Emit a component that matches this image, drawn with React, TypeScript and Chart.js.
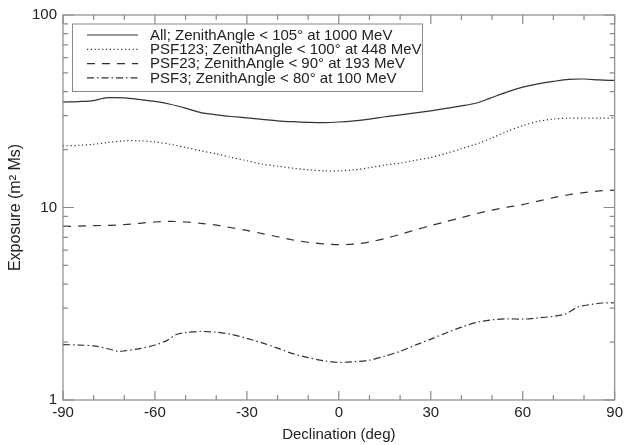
import React, { useEffect, useRef } from "react";
import { Chart, registerables } from "chart.js";

Chart.register(...registerables);

// ---- Data ----
const allDec = [-90, -85, -80, -77, -75, -70, -65, -60, -55, -50, -45, -40, -35, -30, -25, -20, -15, -10, -5, 0, 5, 10, 15, 20, 25, 30, 35, 40, 45, 48, 50, 55, 60, 65, 70, 75, 80, 85, 90];
const allExp = [35.3, 35.5, 35.9, 36.9, 37.2, 37.1, 36.4, 35.6, 34.4, 32.8, 31.1, 30.3, 29.7, 29.2, 28.7, 28.2, 27.9, 27.7, 27.6, 27.8, 28.2, 28.8, 29.6, 30.3, 31.0, 31.8, 32.7, 33.7, 34.9, 36.3, 37.3, 39.9, 42.2, 43.9, 45.2, 46.3, 46.5, 46.0, 45.7];

const psf123Dec = [-90, -85, -80, -75, -70, -65, -60, -55, -50, -45, -40, -35, -30, -25, -20, -15, -10, -5, 0, 5, 10, 15, 20, 25, 30, 35, 40, 45, 50, 55, 60, 65, 70, 75, 80, 85, 90];
const psf123Exp = [20.9, 21.0, 21.3, 21.8, 22.2, 22.2, 21.9, 21.3, 20.5, 19.7, 19.0, 18.2, 17.5, 16.8, 16.4, 16.0, 15.7, 15.5, 15.5, 15.7, 16.1, 16.6, 17.0, 17.6, 18.2, 19.1, 20.2, 21.4, 23.0, 24.9, 26.6, 28.0, 28.8, 29.1, 29.1, 29.1, 29.2];

const psf23Dec = [-90, -85, -80, -75, -70, -65, -60, -55, -50, -45, -40, -35, -30, -25, -20, -15, -10, -5, 0, 5, 10, 15, 20, 25, 30, 35, 40, 45, 50, 55, 60, 65, 70, 75, 80, 85, 90];
const psf23Exp = [7.98, 8.0, 8.05, 8.08, 8.15, 8.28, 8.41, 8.47, 8.41, 8.28, 8.1, 7.85, 7.6, 7.32, 7.05, 6.78, 6.6, 6.47, 6.42, 6.45, 6.62, 6.9, 7.25, 7.65, 8.05, 8.45, 8.85, 9.3, 9.7, 10.05, 10.35, 10.8, 11.25, 11.65, 11.95, 12.2, 12.3];

const psf3Dec = [-90, -85, -80, -75, -72, -70, -65, -60, -56, -53, -50, -45, -40, -35, -30, -25, -20, -15, -10, -5, 0, 5, 10, 15, 20, 25, 30, 35, 40, 45, 50, 55, 60, 65, 70, 74, 78, 82, 86, 90];
const psf3Exp = [1.94, 1.93, 1.91, 1.84, 1.79, 1.80, 1.85, 1.93, 2.04, 2.19, 2.24, 2.27, 2.25, 2.19, 2.09, 1.98, 1.86, 1.74, 1.66, 1.60, 1.57, 1.58, 1.61, 1.69, 1.79, 1.93, 2.07, 2.23, 2.39, 2.53, 2.61, 2.64, 2.63, 2.67, 2.72, 2.80, 3.04, 3.13, 3.19, 3.20];

const seriesLabels = [
  "All; ZenithAngle < 105° at 1000 MeV",
  "PSF123; ZenithAngle < 100° at 448 MeV",
  "PSF23; ZenithAngle < 90° at 193 MeV",
  "PSF3; ZenithAngle < 80° at 100 MeV",
];

const xMajorTicks = [-90, -60, -30, 0, 30, 60, 90];
const xMinorTicks = [-80, -70, -50, -40, -20, -10, 10, 20, 40, 50, 70, 80];
const yMajorTicks = [1, 10, 100];
const yMinorTicks = [2, 3, 4, 5, 6, 7, 8, 9, 20, 30, 40, 50, 60, 70, 80, 90];

const FONT = "'Liberation Sans', Arial, Helvetica, sans-serif";
const LINE = "#333333";
const FRAME = "#8a8a8a";

const toPts = (xs: number[], ys: number[]) => xs.map((x, i) => ({ x, y: ys[i] }));

const framePlugin = {
  id: "frameTicks",
  afterDraw(chart: any) {
    const { ctx, chartArea: a, scales } = chart;
    const xs = scales.x;
    const ys = scales.y;
    ctx.save();
    ctx.strokeStyle = FRAME;
    ctx.lineWidth = 1.2;
    ctx.setLineDash([]);
    ctx.strokeRect(a.left, a.top, a.right - a.left, a.bottom - a.top);
    ctx.beginPath();
    const xt = (v: number, len: number) => {
      const p = xs.getPixelForValue(v);
      ctx.moveTo(p, a.bottom);
      ctx.lineTo(p, a.bottom - len);
      ctx.moveTo(p, a.top);
      ctx.lineTo(p, a.top + len);
    };
    const yt = (v: number, len: number) => {
      const p = ys.getPixelForValue(v);
      ctx.moveTo(a.left, p);
      ctx.lineTo(a.left + len, p);
      ctx.moveTo(a.right, p);
      ctx.lineTo(a.right - len, p);
    };
    xMajorTicks.forEach((v) => xt(v, 9));
    xMinorTicks.forEach((v) => xt(v, 5));
    yMajorTicks.forEach((v) => yt(v, 11));
    yMinorTicks.forEach((v) => yt(v, 5));
    ctx.stroke();

    // legend
    const lx = 72.5, ly = 24, lw = 350, lh = 67.5;
    ctx.fillStyle = "#ffffff";
    ctx.fillRect(lx, ly, lw, lh);
    ctx.strokeStyle = FRAME;
    ctx.lineWidth = 1;
    ctx.strokeRect(lx, ly, lw, lh);
    ctx.font = `15px ${FONT}`;
    ctx.textBaseline = "middle";
    ctx.textAlign = "left";
    chart.data.datasets.forEach((ds: any, i: number) => {
      const y = 35 + i * 14.3;
      ctx.beginPath();
      ctx.strokeStyle = LINE;
      ctx.lineWidth = 1.2;
      ctx.setLineDash(ds.borderDash || []);
      ctx.moveTo(87, y);
      ctx.lineTo(138, y);
      ctx.stroke();
      ctx.setLineDash([]);
      ctx.fillStyle = "#222";
      ctx.fillText(ds.label, 150, y + 0.5);
    });
    ctx.restore();
  },
};

export default function App() {
  const ref = useRef<HTMLCanvasElement | null>(null);
  useEffect(() => {
    const canvas = ref.current;
    if (!canvas) return;
    const mk = (label: string, xs: number[], ys: number[], dash: number[]) => ({
      label,
      data: toPts(xs, ys),
      borderColor: LINE,
      borderWidth: 1.2,
      borderDash: dash,
      pointRadius: 0,
      fill: false,
      tension: 0.3,
    });
    const chart = new Chart(canvas, {
      type: "line",
      data: {
        datasets: [
          mk(seriesLabels[0], allDec, allExp, []),
          mk(seriesLabels[1], psf123Dec, psf123Exp, [1.2, 2.6]),
          mk(seriesLabels[2], psf23Dec, psf23Exp, [8, 7]),
          mk(seriesLabels[3], psf3Dec, psf3Exp, [7, 3, 1.5, 3]),
        ],
      },
      options: {
        animation: false,
        responsive: false,
        devicePixelRatio: 1,
        layout: { padding: { top: 14, right: 10, left: 0, bottom: 0 } },
        plugins: { legend: { display: false }, tooltip: { enabled: false } },
        scales: {
          x: {
            type: "linear",
            min: -90,
            max: 90,
            afterBuildTicks: (s: any) => {
              s.ticks = xMajorTicks.map((v) => ({ value: v }));
            },
            afterFit: (s: any) => {
              s.height = 45;
            },
            ticks: {
              padding: 4,
              maxRotation: 0,
              autoSkip: false,
              color: "#222",
              font: { family: FONT, size: 15 },
            },
            grid: { display: false, drawTicks: false },
            border: { display: false },
            title: {
              display: true,
              text: "Declination (deg)",
              color: "#222",
              font: { family: FONT, size: 15 },
              padding: { top: 0, bottom: 1 },
            },
          },
          y: {
            type: "logarithmic",
            min: 1,
            max: 100,
            afterBuildTicks: (s: any) => {
              s.ticks = yMajorTicks.map((v) => ({ value: v }));
            },
            afterFit: (s: any) => {
              s.width = 63;
            },
            ticks: {
              padding: 6,
              autoSkip: false,
              color: "#222",
              font: { family: FONT, size: 15 },
              callback: (v: any) => String(v),
            },
            grid: { display: false, drawTicks: false },
            border: { display: false },
            title: {
              display: true,
              text: "Exposure (m² Ms)",
              color: "#222",
              font: { family: FONT, size: 16 },
              padding: { top: 6, bottom: 0 },
            },
          },
        },
      },
      plugins: [framePlugin],
    } as any);
    return () => chart.destroy();
  }, []);
  return (
    <div style={{ position: "absolute", left: 0, top: 0, width: 627, height: 445 }}>
      <canvas ref={ref} width={627} height={445} />
    </div>
  );
}
